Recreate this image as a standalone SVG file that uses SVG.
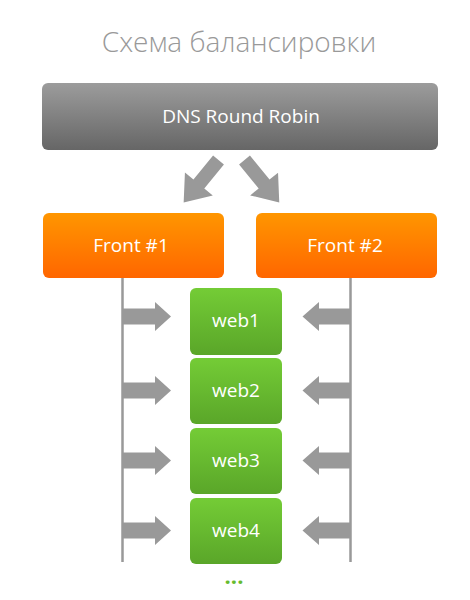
<svg xmlns="http://www.w3.org/2000/svg" width="470" height="600" viewBox="0 0 470 600">
<defs>
<linearGradient id="gGray" x1="0" y1="0" x2="0" y2="1"><stop offset="0" stop-color="#9c9c9c"/><stop offset="1" stop-color="#666666"/></linearGradient>
<linearGradient id="gOrange" x1="0" y1="0" x2="0" y2="1"><stop offset="0" stop-color="#ff9600"/><stop offset="1" stop-color="#ff6600"/></linearGradient>
<linearGradient id="gGreen" x1="0" y1="0" x2="0" y2="1"><stop offset="0" stop-color="#74cc36"/><stop offset="1" stop-color="#5aa629"/></linearGradient>
</defs>
<style>
text{font-family:"Open Sans","Noto Sans",sans-serif;text-anchor:middle}
.title{font-size:28px;fill:#999;font-weight:300}
.lbl{fill:#fff;font-size:19px;font-weight:500}
.web{fill:url(#gGreen)}
.front{fill:url(#gOrange)}
.arr{fill:#999}
.vline{stroke:#999;stroke-width:2.5;fill:none}
</style>
<text class="title" x="239" y="52">Схема балансировки</text>
<g id="dns">
<rect x="42" y="83" width="396" height="67" rx="6" fill="url(#gGray)"/>
<text class="lbl" x="241" y="123">DNS Round Robin</text>
</g>
<g id="front1">
<rect class="front" x="43" y="213" width="181" height="65" rx="6"/>
<text class="lbl" x="131" y="252">Front #1</text>
</g>
<g id="front2">
<rect class="front" x="256" y="213" width="181" height="65" rx="6"/>
<text class="lbl" x="345" y="252">Front #2</text>
</g>
<g id="web1"><rect class="web" x="190" y="288" width="92" height="67" rx="6"/><text class="lbl" x="236" y="327">web1</text></g>
<g id="web2"><rect class="web" x="190" y="358" width="92" height="66" rx="6"/><text class="lbl" x="236" y="397">web2</text></g>
<g id="web3"><rect class="web" x="190" y="428" width="92" height="66" rx="6"/><text class="lbl" x="236" y="467">web3</text></g>
<g id="web4"><rect class="web" x="190" y="498" width="92" height="66" rx="6"/><text class="lbl" x="236" y="537">web4</text></g>
<text x="234" y="584" style="font-size:22px;font-weight:700;fill:#66bb2e">...</text>
<g id="connectors">
<polygon class="arr" points="0,-7 31,-7 31,-18 55,0 31,18 31,7 0,7" transform="translate(218.5,160) rotate(129.3)"/>
<polygon class="arr" points="0,-7 31,-7 31,-18 55,0 31,18 31,7 0,7" transform="translate(244.5,160) rotate(50.8)"/>
<line class="vline" x1="122.5" y1="278" x2="122.5" y2="562"/>
<line class="vline" x1="350.5" y1="278" x2="350.5" y2="562"/>
<g class="arr">
<polygon points="123,-8 155,-8 155,-14.5 171,0 155,14.5 155,8 123,8" transform="translate(0,316.5)"/>
<polygon points="123,-8 155,-8 155,-14.5 171,0 155,14.5 155,8 123,8" transform="translate(0,390.5)"/>
<polygon points="123,-8 155,-8 155,-14.5 171,0 155,14.5 155,8 123,8" transform="translate(0,460.5)"/>
<polygon points="123,-8 155,-8 155,-14.5 171,0 155,14.5 155,8 123,8" transform="translate(0,530.5)"/>
<polygon points="350,-8 319,-8 319,-14.5 302.5,0 319,14.5 319,8 350,8" transform="translate(0,316.5)"/>
<polygon points="350,-8 319,-8 319,-14.5 302.5,0 319,14.5 319,8 350,8" transform="translate(0,390.5)"/>
<polygon points="350,-8 319,-8 319,-14.5 302.5,0 319,14.5 319,8 350,8" transform="translate(0,460.5)"/>
<polygon points="350,-8 319,-8 319,-14.5 302.5,0 319,14.5 319,8 350,8" transform="translate(0,530.5)"/>
</g>
</g>
</svg>
